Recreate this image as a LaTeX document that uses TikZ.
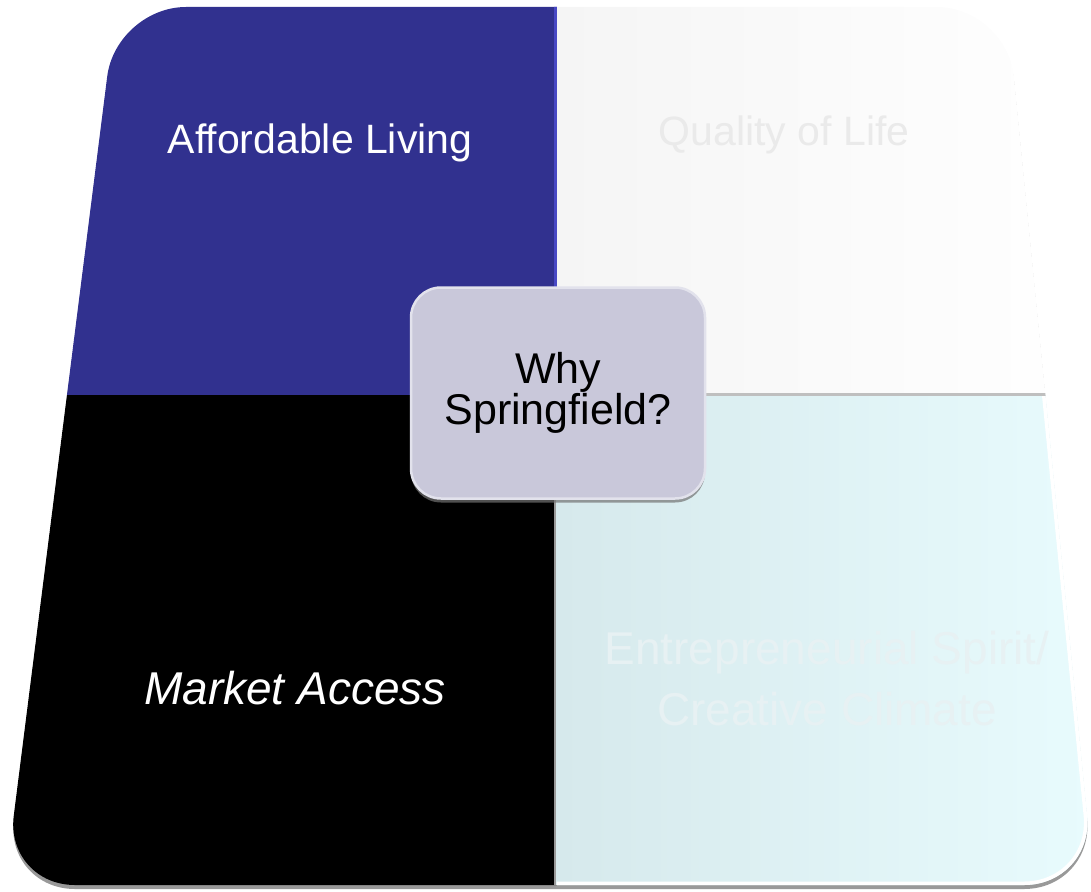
\documentclass[tikz,border=0pt]{standalone}
\usepackage{fontspec}
\setmainfont{Liberation Sans}
\usepackage{xcolor}
\usepackage{tikz}
\usetikzlibrary{positioning}
\usetikzlibrary{shadows}

\definecolor{navy}{RGB}{49,49,143}
\definecolor{navyrim}{RGB}{72,72,196}
\definecolor{qolgrey}{RGB}{245,245,245}
\definecolor{qoltext}{RGB}{234,234,234}
\definecolor{aqualeft}{RGB}{214,233,236}
\definecolor{aquaright}{RGB}{232,251,253}
\definecolor{aquatext}{RGB}{231,241,243}
\definecolor{hubgrey}{RGB}{201,200,218}
\definecolor{hubrim}{RGB}{226,226,236}

\begin{document}
\begin{tikzpicture}[x=1pt, y=1pt,
  quad/.style ={text=white, align=center, inner sep=0pt, font=\fontsize{41}{48}\selectfont},
  big/.style  ={font=\fontsize{46}{61}\selectfont},
  hub/.style  ={rounded corners=30pt, fill=hubgrey, draw=hubrim, line width=2.5pt,
                minimum width=294pt, minimum height=211pt, align=center, text=black,
                font=\fontsize{43}{40}\selectfont,
                drop shadow={shadow xshift=0pt, shadow yshift=-4pt, fill=black!55, opacity=.7}}]
\useasboundingbox (0,0) rectangle (1091,-891);
\coordinate (tl) at (116,-7);
\coordinate (tr) at (1007,-7);
\coordinate (br) at (1094,-885);
\coordinate (bl) at (5,-885);
%\fill[red] (tl) circle (3pt);
\fill[black!40, rounded corners=70pt] ([yshift=-4pt]tl) -- ([yshift=-4pt]tr) -- ([yshift=-4pt]br) -- ([yshift=-4pt]bl) -- cycle;
\begin{scope}
  \clip[rounded corners=70pt] (tl) -- (tr) -- (br) -- (bl) -- cycle;
  \fill[navy] (0,0) rectangle (556.5,-395);
  \shade[left color=qolgrey, right color=white] (556.5,0) rectangle (1091,-395);
  \fill[black] (0,-395) rectangle (556.5,-891);
  \shade[left color=aqualeft, right color=aquaright] (556.5,-395) rectangle (1091,-891);
  % rims
  \draw[navyrim, line width=3pt] (555,0) -- (555,-394);
  \draw[black!25, line width=3pt] (557,-394) -- (1091,-394);
  \draw[black!40, line width=2pt] (555,-397) -- (555,-891);
  \begin{scope}
    \clip (556.5,-396) rectangle (1091,-891);
    \draw[white, line width=7pt, rounded corners=70pt] (tl) -- (tr) -- (br) -- (bl) -- cycle;
  \end{scope}
\end{scope}

\node[quad] (afford) at (320,-143) {Affordable Living};
\node[quad, text=qoltext] (quality) at (784,-135) {Quality of Life};
\node[quad, font=\itshape\fontsize{46}{61}\selectfont] (market) at (295,-688) {Market Access};
\node[quad, big, text=aquatext] (spirit) at (827,-679) {Entrepreneurial Spirit/\\Creative Climate};
\node[hub] (why) at (558,-393) {Why\\Springfield?};
\end{tikzpicture}
\end{document}
